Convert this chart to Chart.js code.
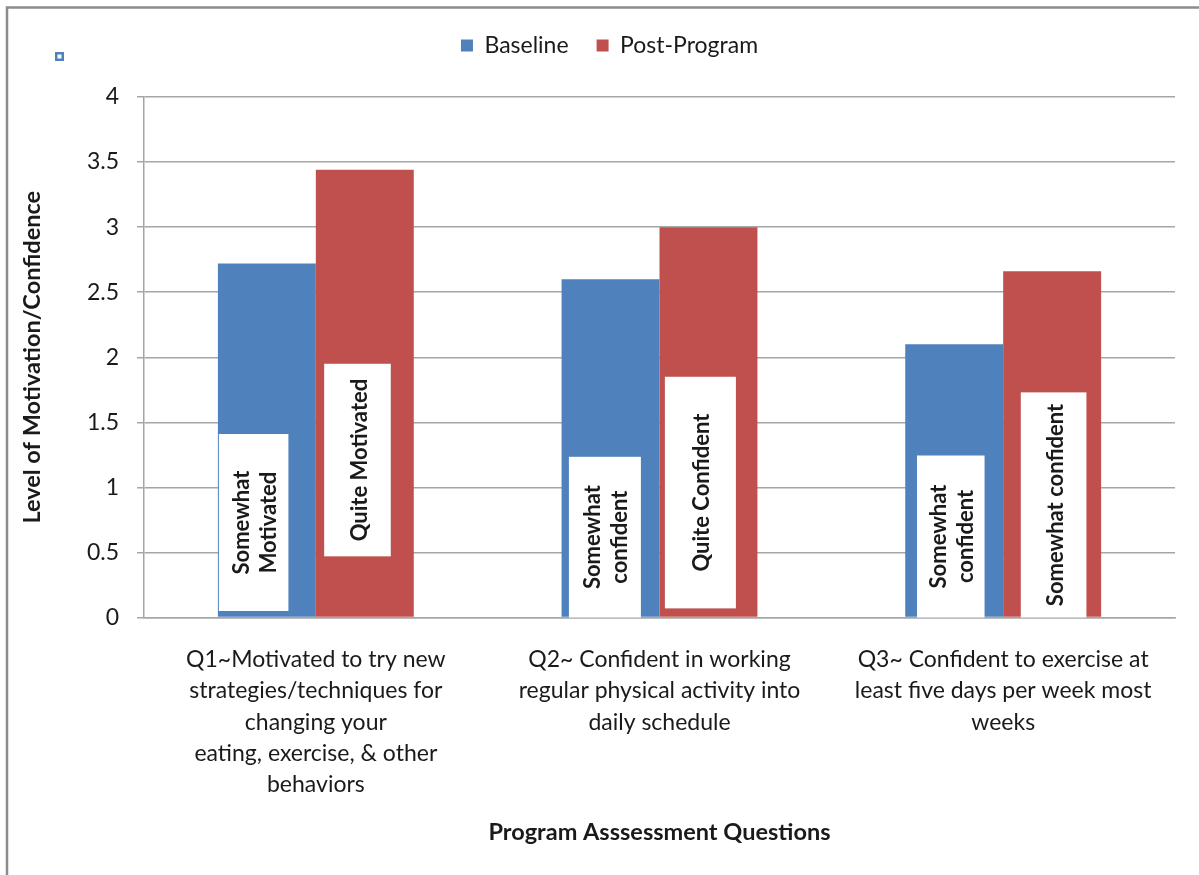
<!DOCTYPE html>
<html>
<head>
<meta charset="utf-8">
<title>Program Assessment Questions</title>
<script src="https://cdn.jsdelivr.net/npm/chart.js@4.4.1/dist/chart.umd.min.js"></script>
<style>
	html, body { margin: 0; padding: 0; background: #fff; }
	#wrap { width: 1199px; height: 875px; }
</style>
</head>
<body>
<div id="wrap"><canvas id="chart" width="1199" height="875"></canvas></div>
<script>
/* global Chart */

// ── Data ──────────────────────────────────────────────────────────────────
var categories = [
	[ 'Q1~Motivated to try new', 'strategies/techniques for', 'changing your', 'eating, exercise, & other', 'behaviors' ],
	[ 'Q2~ Confident in working', 'regular physical activity into', 'daily schedule' ],
	[ 'Q3~ Confident to exercise at', 'least five days per week most', 'weeks' ]
];
var seriesNames    = [ 'Baseline', 'Post-Program' ];
var baselineValues = [ 2.72, 2.60, 2.10 ];
var postValues     = [ 3.44, 3.00, 2.66 ];

var yMin  = 0;
var yMax  = 4;
var yStep = 0.5;

// Text boxes laid over the bars (value range they cover on the y axis).
var baselineNotes      = [ [ 'Somewhat', 'Motivated' ], [ 'Somewhat', 'confident' ], [ 'Somewhat', 'confident' ] ];
var baselineNoteTop    = [ 1.41, 1.235, 1.245 ];
var baselineNoteBottom = [ 0.05, 0, 0 ];
var postNotes          = [ [ 'Quite Motivated' ], [ 'Quite Confident' ], [ 'Somewhat confident' ] ];
var postNoteTop        = [ 1.95, 1.85, 1.73 ];
var postNoteBottom     = [ 0.47, 0.07, 0 ];

( function () {
	'use strict';

	var BLUE  = '#4f81bd';
	var RED   = '#c0504d';
	var GRID  = '#a6a6a6';
	var INK   = '#1a1a1a';
	var FONT  = 'Lato, "Open Sans", sans-serif';

	// horizontal inset of each note box, as a share of the bar width
	var noteInset = [
		[ [ 0.01, 0.72 ], [ 0.075, 0.81 ], [ 0.12, 0.81 ] ],
		[ [ 0.085, 0.765 ], [ 0.055, 0.78 ], [ 0.18, 0.85 ] ]
	];

	// ── Plugins ───────────────────────────────────────────────────────────────

	var frame = {
		id : 'frame',
		beforeDraw : function ( chart ) {
			var ctx = chart.ctx;
			ctx.save();
			ctx.fillStyle = '#fff';
			ctx.fillRect( 0, 0, chart.width, chart.height );
			ctx.strokeStyle = '#8c8c8c';
			ctx.lineWidth = 2.5;
			ctx.beginPath();
			ctx.moveTo( 7, chart.height );
			ctx.lineTo( 7, 7.5 );
			ctx.lineTo( chart.width, 7.5 );
			ctx.stroke();
			// little selection handle at top left
			ctx.fillStyle = BLUE;
			ctx.fillRect( 55, 52, 9, 9 );
			ctx.fillStyle = '#fff';
			ctx.fillRect( 57.5, 54.5, 4, 4 );
			ctx.restore();
		}
	};

	var noteBoxes = {
		id : 'noteBoxes',
		afterDatasetsDraw : function ( chart ) {
			var ctx    = chart.ctx;
			var yScale = chart.scales.y;
			var sets   = [
				{ text: baselineNotes, top: baselineNoteTop, bottom: baselineNoteBottom },
				{ text: postNotes,     top: postNoteTop,     bottom: postNoteBottom }
			];

			ctx.save();
			sets.forEach( function ( set, di ) {
				var meta = chart.getDatasetMeta( di );
				meta.data.forEach( function ( bar, i ) {
					var left = bar.x - bar.width / 2;
					var x0   = left + noteInset[ di ][ i ][ 0 ] * bar.width;
					var x1   = left + noteInset[ di ][ i ][ 1 ] * bar.width;
					var y0   = yScale.getPixelForValue( set.top[ i ] );
					var y1   = yScale.getPixelForValue( set.bottom[ i ] );

					ctx.fillStyle = '#fff';
					ctx.fillRect( x0, y0, x1 - x0, y1 - y0 );

					var lines = set.text[ i ];
					var lh    = 27;
					ctx.save();
					ctx.translate( ( x0 + x1 ) / 2 + 2, ( y0 + y1 ) / 2 );
					ctx.rotate( -Math.PI / 2 );
					ctx.fillStyle    = INK;
					ctx.font         = 'bold 22px ' + FONT;
					ctx.textAlign    = 'center';
					ctx.textBaseline = 'middle';
					lines.forEach( function ( line, li ) {
						ctx.fillText( line, 0, ( li - ( lines.length - 1 ) / 2 ) * lh );
					} );
					ctx.restore();
				} );
			} );
			ctx.restore();
		}
	};

	// ── Chart ─────────────────────────────────────────────────────────────────

	var ctx = document.getElementById( 'chart' ).getContext( '2d' );

	new Chart( ctx, {
		type : 'bar',
		data : {
			labels   : categories,
			datasets : [
				{
					label              : seriesNames[ 0 ],
					data               : baselineValues,
					backgroundColor    : BLUE,
					borderWidth        : 0,
					barPercentage      : 1,
					categoryPercentage : 0.57
				},
				{
					label              : seriesNames[ 1 ],
					data               : postValues,
					backgroundColor    : RED,
					borderWidth        : 0,
					barPercentage      : 1,
					categoryPercentage : 0.57
				}
			]
		},
		plugins : [ frame, noteBoxes ],
		options : {
			responsive : false,
			animation  : false,
			layout     : { padding: { left: 44, right: 24, top: 6, bottom: 0 } },
			plugins    : {
				legend : {
					position : 'top',
					labels   : {
						color     : INK,
						font      : { family: FONT, size: 23 },
						boxWidth  : 12,
						boxHeight : 12,
						padding   : 28
					}
				},
				// empty spacer between legend and plot
				subtitle : {
					display  : true,
					text     : '',
					position : 'top',
					weight   : 0,
					font     : { size: 10, lineHeight: 1 },
					padding  : { top: 0, bottom: 20 }
				},
				tooltip : { enabled: false }
			},
			scales : {
				x : {
					grid   : { display: false, drawTicks: false },
					border : { display: true, color: GRID, width: 1.5 },
					ticks  : {
						color       : INK,
						font        : { family: FONT, size: 23, lineHeight: 1.35 },
						padding     : 27,
						autoSkip    : false,
						maxRotation : 0
					},
					title : {
						display : true,
						text    : 'Program Asssessment Questions',
						color   : INK,
						font    : { family: FONT, size: 23.5, weight: 'bold' },
						padding : { top: 0, bottom: 28 }
					},
					afterFit : function ( scale ) {
						scale.height = 875 - 617.5;
					}
				},
				y : {
					min    : yMin,
					max    : yMax,
					grid   : { color: GRID, lineWidth: 1.5, tickLength: 7 },
					border : { display: true, color: GRID, width: 1.5 },
					ticks  : {
						stepSize : yStep,
						color    : INK,
						font     : { family: FONT, size: 23 },
						padding  : 18,
						callback : function ( val ) {
							return String( val );
						}
					},
					title : {
						display : true,
						text    : 'Level of Motivation/Confidence',
						color   : INK,
						font    : { family: FONT, size: 23.5, weight: 'bold' },
						padding : { top: -26, bottom: 0 }
					},
					afterFit : function ( scale ) {
						scale.width = 100;
					}
				}
			}
		}
	} );

}() );
</script>
</body>
</html>
